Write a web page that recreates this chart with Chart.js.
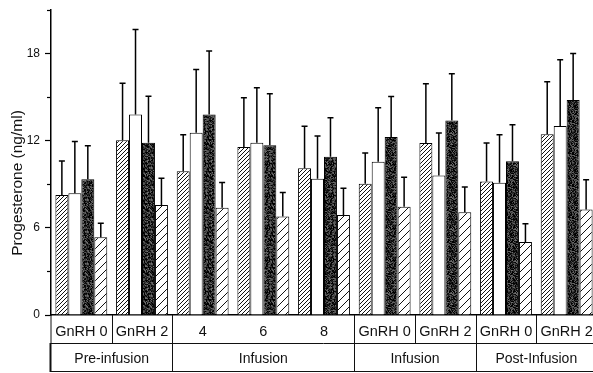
<!DOCTYPE html>
<html><head><meta charset="utf-8">
<script src="https://cdn.jsdelivr.net/npm/chart.js@4/dist/chart.umd.min.js"></script>
<style>
html,body{margin:0;padding:0;background:#fff;overflow:hidden;width:593px;height:373px}
#wrap{width:597px;height:373px}
</style></head><body>
<div id="wrap"><canvas id="c" width="597" height="373"></canvas></div>
<script>
// ---- data ----
const categories = ["GnRH 0","GnRH 2","4","6","8","GnRH 0","GnRH 2","GnRH 0","GnRH 2"];
const phaseLabels = ["Pre-infusion","Infusion","Infusion","Post-Infusion"];
const phaseSpans = [2,3,2,2];
const yTickValues = [0,6,12,18];

const seriesA = [8.26,12.04,9.89,11.56,10.10,9.04,11.84,9.20,12.44];   // dense hatch
const seriesAErr = [2.34,3.91,2.52,3.40,2.90,2.11,4.08,2.64,3.62];
const seriesB = [8.38,13.81,12.55,11.86,9.38,10.55,9.61,9.10,13.01];   // white
const seriesBErr = [3.57,5.85,4.35,3.78,2.94,3.72,2.92,3.31,4.56];
const seriesC = [9.34,11.86,13.81,11.68,10.90,12.25,13.40,10.58,14.80]; // dark
const seriesCErr = [2.31,3.21,4.36,3.55,2.68,2.80,3.21,2.52,3.21];
const seriesD = [5.35,7.57,7.39,6.79,6.88,7.45,7.07,5.02,7.27];        // sparse hatch
const seriesDErr = [0.96,1.84,1.74,1.65,1.84,2.03,1.74,1.26,2.04];

const FONT = '"Liberation Sans", Arial, Helvetica, sans-serif';

// ---- fill patterns ----
function hatch(size, lw){
  const c=document.createElement('canvas'); c.width=size; c.height=size;
  const g=c.getContext('2d'); g.fillStyle='#fff'; g.fillRect(0,0,size,size);
  g.strokeStyle='#111'; g.lineWidth=lw; g.beginPath();
  g.moveTo(0,size); g.lineTo(size,0);
  g.moveTo(-size/2,size/2); g.lineTo(size/2,-size/2);
  g.moveTo(size/2,size*1.5); g.lineTo(size*1.5,size/2);
  g.stroke();
  return document.getElementById('c').getContext('2d').createPattern(c,'repeat');
}
function stipple(){
  const s=32, c=document.createElement('canvas'); c.width=s; c.height=s;
  const g=c.getContext('2d'); const im=g.createImageData(s,s);
  for(let i=0;i<s*s;i++){
    let h=(i*2654435761)>>>0; h^=h>>>13; h=(h*1274126177)>>>0; h^=h>>>16;
    const v=40+(h%75);
    im.data[i*4]=v; im.data[i*4+1]=v; im.data[i*4+2]=v; im.data[i*4+3]=255;
  }
  g.putImageData(im,0,0);
  return document.getElementById('c').getContext('2d').createPattern(c,'repeat');
}

const errs=[seriesAErr,seriesBErr,seriesCErr,seriesDErr];

const errorBars={
  id:'errorBars',
  afterDatasetsDraw(chart){
    const ctx=chart.ctx, ys=chart.scales.y;
    ctx.save(); ctx.strokeStyle='#000'; ctx.lineWidth=1.5;
    chart.data.datasets.forEach((ds,di)=>{
      const meta=chart.getDatasetMeta(di);
      meta.data.forEach((el,i)=>{
        const top=ys.getPixelForValue(ds.data[i]+errs[di][i]);
        ctx.beginPath();
        ctx.moveTo(el.x,el.y); ctx.lineTo(el.x,top);
        ctx.moveTo(el.x-3,top); ctx.lineTo(el.x+3,top);
        ctx.stroke();
      });
    });
    ctx.restore();
  }
};

const decor={
  id:'decor',
  afterDraw(chart){
    const ctx=chart.ctx, xs=chart.scales.x, ys=chart.scales.y, ca=chart.chartArea;
    ctx.save();
    // minor ticks
    ctx.strokeStyle='#000'; ctx.lineWidth=1.2;
    ys.ticks.forEach(t=>{
      if(!yTickValues.includes(t.value)){
        const p=Math.round(ys.getPixelForValue(t.value))+0.5;
        ctx.beginPath(); ctx.moveTo(ca.left-4,p); ctx.lineTo(ca.left,p); ctx.stroke();
      }
    });
    // y title
    ctx.save();
    ctx.translate(22,183); ctx.rotate(-Math.PI/2);
    ctx.fillStyle='#111'; ctx.font='15.5px '+FONT; ctx.textAlign='center'; ctx.textBaseline='alphabetic';
    ctx.fillText('Progesterone (ng/ml)',0,0);
    ctx.restore();
    // table
    const n=categories.length;
    const cs=categories.map((_,i)=>xs.getPixelForValue(i));
    const b=[ca.left]; for(let i=1;i<n;i++) b.push((cs[i-1]+cs[i])/2); b.push(ca.right);
    const y0=ca.bottom, y1=y0+28, y2=372;
    const isNum=s=>/^\d+$/.test(s);
    ctx.strokeStyle='#111'; ctx.lineWidth=1;
    const line=(x1,yA,x2,yB)=>{ctx.beginPath();ctx.moveTo(x1,yA);ctx.lineTo(x2,yB);ctx.stroke();};
    line(ca.left,y0,ca.left,y1);
    for(let i=1;i<n;i++){ if(!(isNum(categories[i-1])&&isNum(categories[i]))) line(Math.round(b[i])+0.5,y0,Math.round(b[i])+0.5,y1); }
    line(ca.left-1,y1+0.5,ca.right,y1+0.5);
    line(ca.left,y2-0.5,ca.right,y2-0.5);
    ctx.lineWidth=2; line(ca.left-0.5,y1,ca.left-0.5,y2);
    ctx.lineWidth=1;
    ctx.fillStyle='#111'; ctx.textAlign='center'; ctx.textBaseline='alphabetic';
    ctx.font='14.5px '+FONT;
    categories.forEach((lab,i)=>ctx.fillText(lab,cs[i],y0+21));
    ctx.font='14px '+FONT;
    let k=0;
    phaseSpans.forEach((s,j)=>{
      const a=b[k], e=b[k+s];
      if(j>0) line(Math.round(a)+0.5,y1,Math.round(a)+0.5,y2);
      ctx.fillText(phaseLabels[j],(a+e)/2,y2-9);
      k+=s;
    });
    ctx.restore();
  }
};

const ds=(data,bg)=>({data,backgroundColor:bg,borderColor:'#000',borderWidth:1,barPercentage:1,categoryPercentage:0.855});

new Chart(document.getElementById('c'),{
  type:'bar',
  data:{labels:categories,datasets:[
    ds(seriesA,hatch(4,1)),
    ds(seriesB,'#fff'),
    ds(seriesC,stipple()),
    ds(seriesD,hatch(8,1))
  ]},
  options:{
    responsive:false, animation:false, devicePixelRatio:1,
    layout:{padding:{left:1,top:10,right:0,bottom:0}},
    plugins:{legend:{display:false},tooltip:{enabled:false}},
    scales:{
      x:{offset:true,grid:{display:false},ticks:{display:false},
         border:{display:true,color:'#000',width:1.5},
         afterFit(s){s.height=58;s.paddingLeft=0;s.paddingRight=0;}},
      y:{min:0,max:21,
         ticks:{stepSize:3,autoSkip:false,padding:5,color:'#111',font:{size:12,family:FONT},
                callback:v=>yTickValues.includes(v)?String(v):''},
         grid:{display:true,drawOnChartArea:false,tickLength:6,tickWidth:1.2,
               tickColor:c=>(c.tick&&yTickValues.includes(c.tick.value))?'#000':'rgba(0,0,0,0)'},
         border:{display:true,color:'#000',width:1.5},
         afterFit(s){s.width=50;s.paddingTop=0;s.paddingBottom=0;}}
    }
  },
  plugins:[errorBars,decor]
});
</script>
</body></html>
